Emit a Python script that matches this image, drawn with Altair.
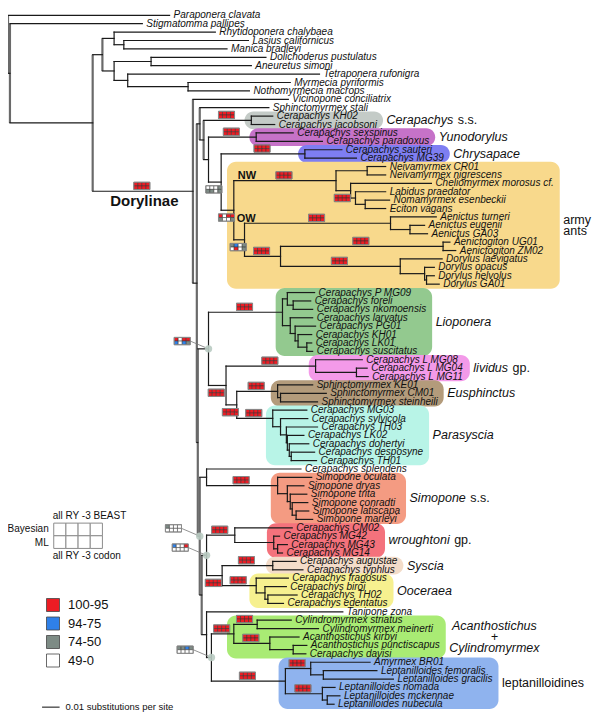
import altair as alt
import pandas as pd

# ---------------- data ----------------
tip_names = [
    "Paraponera clavata", "Stigmatomma pallipes", "Rhytidoponera chalybaea", "Lasius californicus", "Manica bradleyi",
    "Dolichoderus pustulatus", "Aneuretus simoni", "Tetraponera rufonigra", "Myrmecia pyriformis", "Nothomyrmecia macrops",
    "Vicinopone conciliatrix", "Sphinctomyrmex stali", "Cerapachys  KH02", "Cerapachys jacobsoni", "Cerapachys sexspinus",
    "Cerapachys paradoxus", "Cerapachys sauteri", "Cerapachys MG39", "Neivamyrmex CR01", "Neivamyrmex nigrescens",
    "Cheliomyrmex morosus cf.", "Labidus praedator", "Nomamyrmex esenbeckii", "Eciton vagans", "Aenictus turneri",
    "Aenictus eugenii", "Aenictus GA03", "Aenictogiton UG01", "Aenictogiton ZM02", "Dorylus laevigatus",
    "Dorylus opacus", "Dorylus helvolus", "Dorylus GA01", "Cerapachys P MG09", "Cerapachys foreli",
    "Cerapachys nkomoensis", "Cerapachys larvatus", "Cerapachys PG01", "Cerapachys KH01", "Cerapachys LK01",
    "Cerapachys suscitatus", "Cerapachys L MG08", "Cerapachys L MG04", "Cerapachys L MG11", "Sphinctomyrmex KE01",
    "Sphinctomyrmex CM01", "Sphinctomyrmex steinheili", "Cerapachys MG03", "Cerapachys sylvicola", "Cerapachys TH03",
    "Cerapachys LK02", "Cerapachys dohertyi", "Cerapachys desposyne", "Cerapachys TH01", "Cerapachys splendens",
    "Simopone oculata", "Simopone dryas", "Simopone trita", "Simopone conradti", "Simopone latiscapa",
    "Simopone marleyi", "Cerapachys CM02", "Cerapachys MG42", "Cerapachys MG43", "Cerapachys MG14",
    "Cerapachys augustae", "Cerapachys typhlus", "Cerapachys fragosus", "Cerapachys biroi", "Cerapachys TH02",
    "Cerapachys edentatus", "Tanipone zona", "Cylindromyrmex striatus", "Cylindromyrmex meinerti", "Acanthostichus kirbyi",
    "Acanthostichus punctiscapus", "Cerapachys davisi", "Amyrmex BR01", "Leptanilloides femoralis", "Leptanilloides gracilis",
    "Leptanilloides nomada", "Leptanilloides mckennae", "Leptanilloides nubecula",
]

# tip depth (cumulative branch length; 18 units = 0.01 substitutions per site)
tip_depths = [
    166, 138, 213, 247, 225, 265, 250, 320, 290, 248,
    288, 268, 272, 274, 293, 323, 343, 358, 388, 388,
    435, 388, 392, 388, 440, 428, 431, 454, 460, 446,
    438, 438, 443, 315, 311, 313, 313, 316, 312, 312,
    313, 364, 369, 370, 313, 327, 318, 307, 308, 318,
    304, 309, 315, 317, 301, 312, 304, 307, 308, 309,
    313, 292, 279, 287, 282, 296, 303, 288, 286, 297,
    283, 344, 291, 319, 299, 307, 306, 372, 379, 396,
    336, 341, 335,
]

# internal nodes: id, depth, child A, child B (int = tip index)
nodes = [
    ("root", 0, 0, "n1"), ("n1", 2, 1, "n2"), ("n2", 87, "nA", "Dory"),
    ("nA", 97, "nB", "nC"), ("nB", 109, 2, "nB2"), ("nB2", 119, 3, 4),
    ("nC", 109, "nDA", "nD"), ("nDA", 147, 5, 6), ("nD", 123, 7, "nE"), ("nE", 185, 8, 9),
    ("Dory", 190, 10, "D2"), ("D2", 194, "Top", "Lower"),
    ("Top", 197, 11, "T1"), ("T1", 201, "CSS", "T2"), ("CSS", 250, 12, 13),
    ("T2", 206, "Yuno", "T3"), ("Yuno", 255, 14, 15), ("T3", 219, "Chry", "Army"),
    ("Chry", 305, 16, 17), ("Army", 232, "NW", "OW"),
    ("NW", 337, "Neiv", "NWb"), ("Neiv", 369, 18, 19), ("NWb", 352, 20, "NWc"),
    ("NWc", 357, 21, "NWd"), ("NWd", 367, 22, 23),
    ("OW", 243, "Aen", "OW2"), ("Aen", 393, 24, "Aen2"), ("Aen2", 413, 25, 26),
    ("OW2", 280, "Aeg", "Dor"), ("Aeg", 447, 27, 28), ("Dor", 403, 29, "Dor2"),
    ("Dor2", 428, 30, "Dor3"), ("Dor3", 430, 31, 32),
    ("Lower", 195, "LioG", "R1"), ("LioG", 206, "Lio", "LR"),
    ("Lio", 282, "L1", "L2"), ("L1", 287, 33, "L1b"), ("L1b", 293, 34, 35),
    ("L2", 290, 36, "L2b"), ("L2b", 295, 37, "L2c"), ("L2c", 298, 38, "L2d"), ("L2d", 307, 39, 40),
    ("LR", 224, "Liv", "ER"), ("Liv", 316, 41, "Liv2"), ("Liv2", 358, 42, 43),
    ("ER", 235, "Eus", "Par"), ("Eus", 277, 44, "Eus2"), ("Eus2", 280, 45, 46),
    ("Par", 272, 47, "P2"), ("P2", 280, 48, "P3"), ("P3", 286, 49, "P4"),
    ("P4", 287, 50, "P5"), ("P5", 289, 51, "P6"), ("P6", 291, 52, 53),
    ("R1", 197, "SpSim", "R2"), ("SpSim", 204, 54, "Sim"),
    ("Sim", 277, 55, "S2"), ("S2", 287, 56, "S3"), ("S3", 290, 57, "S4"),
    ("S4", 292, 58, "S5"), ("S5", 296, 59, 60),
    ("R2", 199, "W", "T"), ("W", 204, "Wro", "SyOo"),
    ("Wro", 233, 61, "Wr2"), ("Wr2", 273, 62, "Wr3"), ("Wr3", 277, 63, 64),
    ("SyOo", 220, "Sys", "Oo"), ("Sys", 272, 65, 66),
    ("Oo", 255, 67, "Oo2"), ("Oo2", 264, 68, "Oo3"), ("Oo3", 267, 69, 70),
    ("T", 204, 71, "AL"), ("AL", 209, "AC", "Lep"),
    ("AC", 232, "Cyl", "Ac"), ("Cyl", 256, 72, 73), ("Ac", 269, 74, "Ac2"), ("Ac2", 293, 75, 76),
    ("Lep", 285, "Amy", "Lep2"), ("Amy", 311, 77, "Amy2"), ("Amy2", 324, 78, 79),
    ("Lep2", 323, 80, "Lep3"), ("Lep3", 328, 81, 82),
]
gray_nodes = ["root", "n1", "n2", "nA", "Dory", "D2", "Top", "T1", "Lower", "R1", "R2"]

# support boxes: 4 columns (all, RY, -3, BEAST/codon) x 2 rows (Bayesian, ML)
# R = 100-95, B = 94-75, G = 74-50, W = 49-0
support_nodes = ["Dory", "CSS", "Yuno", "Chry", "T3", "Army", "NW", "NWb", "Aen", "OW", "OW2", "Aeg", "Dor",
                 "LioG", "Lio", "Liv", "LR", "Eus", "ER", "Par", "Sim", "R1", "Wro", "W", "Sys", "SyOo", "Oo",
                 "AL", "AC", "Cyl", "Ac", "Lep", "Amy", "Lep2"]
support_codes = ["RRRRRRRR", "RRRRRRRR", "RRRRRRRR", "RRRRRRRR", "WWWGGGWG", "RWRRGWWG", "RRRRRRRR", "RRRRRRRR",
                 "RRRRRRRR", "GBWGWRWG", "RRRRRRRR", "RRRRRRRR", "RRRRRRRR",
                 "RWRRBWBG", "RRRRRRRR", "RRRRRRRR", "RRRRRRRR", "RRRRRRRR", "RRRRRRRR", "RRRRRRRR", "RRRRRRRR",
                 "GWWWWWWW", "RRRRRRRR", "BWWRWWWW", "RRRRRRRR", "RRRRRRRR", "RRRRRRRR",
                 "GGBGWWWW", "RRRRRRRR", "RRRRRRRR", "RRRRRRRR", "RRRRRRRR", "RRRRRRRR", "RRRRRRRR"]
support_side = ["above", "above", "above", "above", "below", "below", "above", "below", "above", "below",
                "above", "above", "above", "pointer", "above", "above", "below", "above", "below", "above",
                "above", "pointer", "above", "pointer", "above", "below", "above", "pointer", "above", "above",
                "above", "above", "above", "above"]

# highlighted clades
clade_italic = ["Cerapachys", "Yunodorylus", "Chrysapace", "", "Lioponera", "lividus", "Eusphinctus",
                "Parasyscia", "Simopone", "wroughtoni", "Syscia", "Ooceraea",
                "Acanthostichus\n+\nCylindromyrmex", ""]
clade_normal = [" s.s.", "", "", "army\nants", "", " gp.", "", "", " s.s.", " gp.", "", "", "", "leptanilloidines"]
clade_first = [12, 14, 16, 18, 33, 41, 44, 47, 55, 61, 65, 67, 72, 77]
clade_last = [13, 15, 17, 32, 40, 43, 46, 53, 60, 64, 66, 70, 76, 82]
clade_node = ["CSS", "Yuno", "Chry", "Army", "Lio", "Liv", "Eus", "Par", "Sim", "Wr2", "Sys", "Oo", "AC", "Lep"]
clade_fill = ["#c4cbc7", "#c672c8", "#7e7ef2", "#f8d98c", "#93c98f", "#f39ae9", "#b39b7b", "#b8f4e7",
              "#f49b82", "#f4727c", "#f3dcc9", "#f6f08f", "#a9eb74", "#8fb3ee"]

legend_labels = ["100-95", "94-75", "74-50", "49-0"]
legend_colors = ["#ec1c24", "#2f80e8", "#7d8b85", "#ffffff"]
key_cols_top = "all RY -3 BEAST"
key_cols_bottom = "all RY -3 codon"
key_rows = ["Bayesian", "ML"]
scale_bar_units = 18          # = 0.01 substitutions per site
scale_bar_label = "0.01 substitutions per site"

# ---------------- layout helpers ----------------
W_PX, H_PX = 584, 705
X_MIN, X_MAX, Y_MIN, Y_MAX = 0, 600, -3, 721
sx, sy = W_PX / (X_MAX - X_MIN), H_PX / (Y_MAX - Y_MIN)
code_cat = {"R": legend_labels[0], "B": legend_labels[1], "G": legend_labels[2], "W": legend_labels[3]}

HW = {' ': 278, '.': 278, '+': 584, '-': 333, 'a': 556, 'b': 556, 'c': 500, 'd': 556, 'e': 556, 'f': 278,
      'g': 556, 'h': 556, 'i': 222, 'j': 222, 'k': 500, 'l': 222, 'm': 833, 'n': 556, 'o': 556, 'p': 556,
      'q': 556, 'r': 333, 's': 500, 't': 278, 'u': 556, 'v': 500, 'w': 722, 'x': 500, 'y': 500, 'z': 500,
      'A': 667, 'B': 667, 'C': 722, 'D': 722, 'E': 667, 'F': 611, 'G': 778, 'H': 722, 'I': 278, 'J': 500,
      'K': 667, 'L': 556, 'M': 833, 'N': 722, 'O': 778, 'P': 667, 'Q': 778, 'R': 722, 'S': 667, 'T': 611,
      'U': 722, 'V': 667, 'W': 944, 'X': 667, 'Y': 667, 'Z': 611}


def tw(s, size):
    return sum(HW.get(c, 556) for c in s) * size / 1000.0


TIP_FS = 10
GRP_FS = 12.5
tip_y = [4.5 + (712 - 4.5) / (len(tip_names) - 1) * i for i in range(len(tip_names))]
depth = {n[0]: n[1] for n in nodes}
kids = {n[0]: (n[2], n[3]) for n in nodes}
ny = {}
parent = {}


def pos(c):
    if isinstance(c, int):
        return tip_depths[c], tip_y[c]
    return depth[c], ny[c]


def calc(nid):
    yy = []
    for c in kids[nid]:
        if isinstance(c, str):
            parent[c] = nid
            calc(c)
        yy.append(pos(c)[1])
    ny[nid] = (min(yy) + max(yy)) / 2


calc("root")

seg_black, seg_gray = [], []
for nid, d, a, b in nodes:
    pa, pb = pos(a), pos(b)
    (seg_gray if nid in gray_nodes else seg_black).append(dict(x=d, x2=d, y=pa[1], y2=pb[1]))
    for p in (pa, pb):
        seg_black.append(dict(x=d, x2=p[0], y=p[1], y2=p[1]))

tips_df = pd.DataFrame(dict(x=tip_depths, y=tip_y, t=tip_names))

# support cells
BW, BH = 16.5, 7.5
cells, frames, pointers, dots = [], [], [], []
for n, code, side in zip(support_nodes, support_codes, support_side):
    d, y = depth[n], ny[n]
    if side == "pointer":
        cx, cy = d - 27, y - 8
        pointers.append(dict(x=cx + BW / 2, x2=d, y=cy, y2=y))
        dots.append(dict(x=d, y=y))
    else:
        cx = (depth[parent[n]] + d) / 2 - 1
        cy = y - 5.5 if side == "above" else y + 7.5
    x0, y0 = cx - BW / 2, cy - BH / 2
    frames.append(dict(x=x0, x2=x0 + BW, y=y0, y2=y0 + BH))
    for k, ch in enumerate(code):
        r, c = divmod(k, 4)
        cells.append(dict(x=x0 + c * BW / 4, x2=x0 + (c + 1) * BW / 4,
                          y=y0 + r * BH / 2, y2=y0 + (r + 1) * BH / 2, cat=code_cat[ch]))

# clade boxes and labels
boxes, lab_it, lab_no = [], [], []
LH = 11 / sy
for it, no, f, l, nd, fill in zip(clade_italic, clade_normal, clade_first, clade_last, clade_node, clade_fill):
    right = max(tip_depths[i] + (4 + tw(tip_names[i], TIP_FS)) / sx for i in range(f, l + 1)) + 6 / sx
    left = depth[nd] - 7
    top, bot = tip_y[f] - 4.8, tip_y[l] + 4.8
    boxes.append(dict(x=left, x2=right, y=top, y2=bot, fill=fill))
    lx = right + 3.5 / sx
    cyc = (top + bot) / 2
    if "\n" in it or "\n" in no:
        lines = (it or no).split("\n")
        centered = bool(it)
        wmax = max(tw(s, GRP_FS) for s in lines)
        for j, s in enumerate(lines):
            yj = cyc + (j - (len(lines) - 1) / 2) * LH
            xj = lx + (wmax / 2 - tw(s, GRP_FS) / 2) / sx if centered else lx
            (lab_it if it else lab_no).append(dict(x=xj, y=yj, t=s))
    else:
        if it:
            lab_it.append(dict(x=lx, y=cyc, t=it))
        if no:
            lead = no[:len(no) - len(no.lstrip())]
            lab_no.append(dict(x=lx + (tw(it + lead, GRP_FS) + (1 if it else 0)) / sx, y=cyc, t=no.lstrip()))

# ---------------- chart ----------------
xs = alt.Scale(domain=[X_MIN, X_MAX], nice=False, zero=False)
ys = alt.Scale(domain=[Y_MIN, Y_MAX], nice=False, zero=False, reverse=True)
X = alt.X("x:Q", scale=xs, axis=None)
Y = alt.Y("y:Q", scale=ys, axis=None)
X2, Y2 = alt.X2("x2:Q"), alt.Y2("y2:Q")

layers = []
for b in boxes:
    layers.append(alt.Chart(pd.DataFrame([b])).mark_rect(cornerRadius=9, fill=b["fill"]).encode(
        x=X, x2=X2, y=Y, y2=Y2))

layers.append(alt.Chart(pd.DataFrame(seg_gray)).mark_rule(color="#6a6a6a", strokeWidth=2.2).encode(
    x=X, x2=X2, y=Y, y2=Y2))
layers.append(alt.Chart(pd.DataFrame(seg_black)).mark_rule(color="#1a1a1a", strokeWidth=1.2, strokeCap="square").encode(
    x=X, x2=X2, y=Y, y2=Y2))

layers.append(alt.Chart(tips_df).mark_text(align="left", baseline="middle", dx=4, font="Liberation Sans",
                                           fontStyle="italic", fontSize=TIP_FS, color="#111").encode(
    x=X, y=Y, text="t:N"))

layers.append(alt.Chart(pd.DataFrame(pointers)).mark_rule(color="#777", strokeWidth=0.8).encode(
    x=X, x2=X2, y=Y, y2=Y2))
layers.append(alt.Chart(pd.DataFrame(dots)).mark_circle(size=55, color="#b9cbc2", opacity=0.9).encode(x=X, y=Y))

layers.append(alt.Chart(pd.DataFrame(cells)).mark_rect(stroke="#333", strokeWidth=0.5).encode(
    x=X, x2=X2, y=Y, y2=Y2,
    color=alt.Color("cat:N", scale=alt.Scale(domain=legend_labels, range=legend_colors),
                    legend=alt.Legend(orient="none", legendX=38, legendY=590, title=None,
                                      symbolType="square", symbolSize=169, symbolStrokeColor="#444",
                                      symbolStrokeWidth=0.8, symbolOpacity=1, labelFont="Liberation Sans",
                                      labelFontSize=13, labelColor="#111", labelOffset=8, rowPadding=0.5,
                                      padding=0))))
layers.append(alt.Chart(pd.DataFrame(frames)).mark_rect(fillOpacity=0, stroke="#8a8a8a", strokeWidth=1).encode(
    x=X, x2=X2, y=Y, y2=Y2))

layers.append(alt.Chart(pd.DataFrame(lab_it)).mark_text(align="left", baseline="middle", font="Liberation Sans",
                                                        fontStyle="italic", fontSize=GRP_FS, color="#111").encode(
    x=X, y=Y, text="t:N"))
layers.append(alt.Chart(pd.DataFrame(lab_no)).mark_text(align="left", baseline="middle", font="Liberation Sans",
                                                        fontSize=GRP_FS, color="#111").encode(
    x=X, y=Y, text="t:N"))

# Dorylinae, NW, OW
ann = pd.DataFrame([
    dict(x=depth["n2"] + 18, y=ny["Dory"] + 10.5, t="Dorylinae", fs=15),
    dict(x=depth["Army"] + 4, y=ny["NW"] - 4.5, t="NW", fs=11),
    dict(x=depth["Army"] + 3, y=ny["Aen"] - 4, t="OW", fs=11),
])
layers.append(alt.Chart(ann).mark_text(align="left", baseline="middle", font="Liberation Sans",
                                       fontWeight="bold", color="#111").encode(
    x=X, y=Y, text="t:N", size=alt.Size("fs:Q", scale=None)))

# support key grid
KX0, KY0, KCW, KCH = 47, 526, 12.5, 13
key_cells = [dict(x=KX0 + c * KCW, x2=KX0 + (c + 1) * KCW, y=KY0 + r * KCH, y2=KY0 + (r + 1) * KCH)
             for r in range(2) for c in range(4)]
layers.append(alt.Chart(pd.DataFrame(key_cells)).mark_rect(fill="white", stroke="#8c8c8c", strokeWidth=1).encode(
    x=X, x2=X2, y=Y, y2=Y2))
key_txt_l = pd.DataFrame([dict(x=KX0, y=KY0 + 6.5, t=key_rows[0]), dict(x=KX0, y=KY0 + 20, t=key_rows[1])])
layers.append(alt.Chart(key_txt_l).mark_text(align="right", baseline="middle", font="Liberation Sans",
                                             fontSize=10, dx=-5, color="#111").encode(x=X, y=Y, text="t:N"))
key_txt_tb = pd.DataFrame([dict(x=KX0 - 1, y=KY0 - 7, t=key_cols_top), dict(x=KX0 - 1, y=KY0 + 2 * KCH + 7.5, t=key_cols_bottom)])
layers.append(alt.Chart(key_txt_tb).mark_text(align="left", baseline="middle", font="Liberation Sans",
                                              fontSize=10, color="#111").encode(x=X, y=Y, text="t:N"))

# scale bar
sb = pd.DataFrame([dict(x=35, x2=35 + scale_bar_units, y=715, y2=715)])
layers.append(alt.Chart(sb).mark_rule(color="#333", strokeWidth=1.2).encode(x=X, x2=X2, y=Y, y2=Y2))
layers.append(alt.Chart(pd.DataFrame([dict(x=35 + scale_bar_units, y=715, t=scale_bar_label)])).mark_text(
    align="left", baseline="middle", dx=6, font="Liberation Sans", fontSize=9.5, color="#111").encode(
    x=X, y=Y, text="t:N"))

chart = alt.layer(*layers).properties(
    width=W_PX, height=H_PX, padding=0, autosize=alt.AutoSizeParams(type="none")
).configure_view(stroke=None)

chart.save("out.html", embed_options={"renderer": "svg", "actions": False})
